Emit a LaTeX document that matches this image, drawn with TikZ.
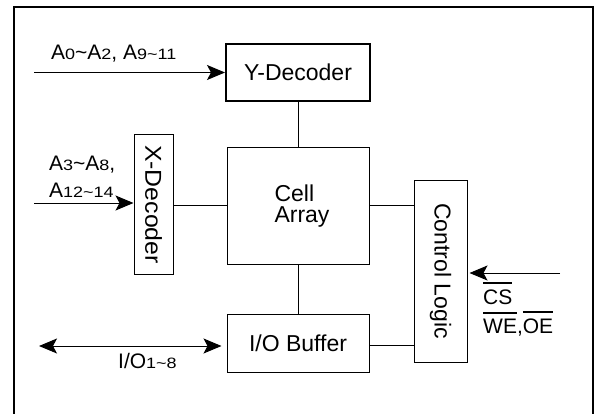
\documentclass[tikz,border=0pt]{standalone}
\usepackage{graphicx}
\usepackage{fontspec}
\setmainfont{Liberation Sans}
\usetikzlibrary{arrows.meta}
\newcommand\sm[1]{\scalebox{1.2}[1]{\fontsize{15}{16}\selectfont #1}}
\newcommand\tl{\textasciitilde}
\newcommand\ovl[1]{\leavevmode\setbox0\hbox{#1}\rlap{\rule[\dimexpr\ht0+5pt\relax]{\wd0}{2pt}}\box0}
\begin{document}
\begin{tikzpicture}[x=1pt,y=-1pt,
  block/.style={draw, line width=1pt, inner sep=0pt, font=\fontsize{23}{21}\selectfont},
  big/.style={font=\fontsize{23}{21}\selectfont, inner sep=0pt},
  lbl/.style={font=\fontsize{21}{22}\selectfont, inner sep=0pt, anchor=base west},
  wire/.style={line width=1pt},
  arr/.style={line width=1pt, -{Stealth[length=18pt,width=15pt,inset=4pt]}},
  darr/.style={line width=1pt, {Stealth[length=18pt,width=15pt,inset=4pt]}-{Stealth[length=18pt,width=15pt,inset=4pt]}}]
\useasboundingbox (0,0) rectangle (601,414);
\fill[white] (0,0) rectangle (601,414);
\draw[line width=1.3pt] (14,420) -- (14,7) -- (593,7) -- (593,420);
% blocks
\node[block, line width=2pt, minimum width=144pt, minimum height=57pt] (ydec) at (298,72.5) {Y-Decoder};
\node[block, minimum width=142pt, minimum height=117pt] (cell) at (298,205.5) {};
\node[big, align=left] (cellt) at (302,206) {Cell\\Array};
\node[block, minimum width=142pt, minimum height=58pt] (iobuf) at (298,343) {I/O Buffer};
\node[block, minimum width=39pt, minimum height=139pt] (xdec) at (153.5,204.5) {};
\node[big, rotate=-90] (xdect) at (xdec.center) {\scalebox{1.08}[1]{X-Decoder}};
\node[block, minimum width=53pt, minimum height=182pt] (ctrl) at (440.5,271) {};
\node[big, rotate=-90] (ctrlt) at (ctrl.center) {Control Logic};
% free ends
\coordinate (yin) at (34,72.5);
\coordinate (xin) at (34,203);
\coordinate (ioin) at (39,346);
\coordinate (cin) at (560,273);
% connectors
\draw[arr] (yin) -- (ydec.west);
\draw[arr] (xin) -- (xin -| xdec.west);
\draw[wire] (ydec.south) -- (cell.north);
\draw[wire] (cell.south) -- (iobuf.north);
\draw[wire] (xdec.east |- 0,205) -- (cell.west |- 0,205);
\draw[wire] (cell.east |- 0,205) -- (ctrl.west |- 0,205);
\draw[wire] (iobuf.east |- 0,345) -- (ctrl.west |- 0,345);
\draw[darr, shorten >=5pt] (ioin) -- (ioin -| iobuf.west);
\draw[arr, shorten >=2pt] (cin) -- (cin -| ctrl.east);
% labels
\node[lbl] (la) at (51,60) {A\sm{0}\tl A\sm{2}, A\sm{9\tl 11}};
\node[lbl] (lb) at (49,170) {A\sm{3}\tl A\sm{8},};
\node[lbl] (lc) at (49,197) {A\sm{12\tl 14}};
\node[lbl] (ld) at (118,368) {I/O\sm{1\tl 8}};
\node[lbl] (le) at (483,304) {\ovl{CS}};
\node[lbl] (lf) at (483,333) {\ovl{WE},\ovl{OE}};
\end{tikzpicture}
\end{document}
